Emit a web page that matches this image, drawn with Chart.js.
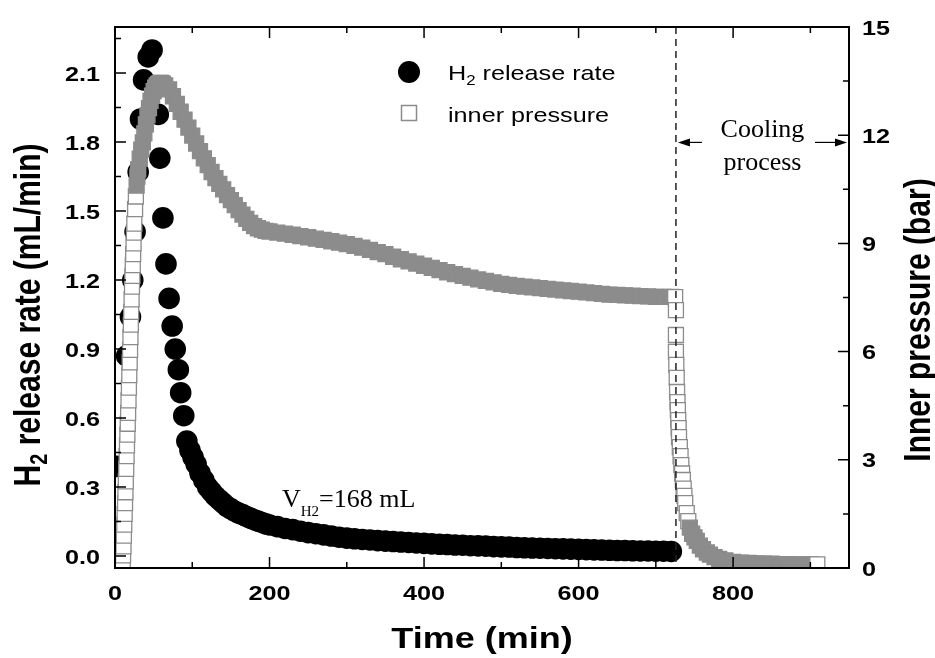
<!DOCTYPE html>
<html>
<head>
<meta charset="utf-8">
<title>H2 release rate and inner pressure</title>
<script src="https://cdn.jsdelivr.net/npm/chart.js@4.4.0/dist/chart.umd.min.js"></script>
<style>
  html, body { margin: 0; padding: 0; background: #fff; }
</style>
</head>
<body>
<canvas id="releaseChart" width="935" height="658"></canvas>
<script>
// H2 release rate (black circles), mL/min
const rateTime = [2, 15, 20, 23, 26, 30, 33, 37, 43, 48,
  56, 58, 62, 66, 70, 74, 78, 82, 85, 89,
  93, 97, 101, 105, 110, 115, 120, 125, 130, 135, 140, 145, 150, 155, 160, 165, 170, 175, 180, 185, 190, 195, 200,
  210, 220, 230, 240, 250, 260, 270, 280, 290, 300, 310, 320, 330, 340, 350, 360, 370, 380, 390, 400,
  410, 420, 430, 440, 450, 460, 470, 480, 490, 500, 510, 520, 530, 540, 550, 560, 570, 580, 590, 600,
  610, 620, 630, 640, 650, 660, 670, 680, 690, 700, 710, 720];
const rateValue = [0.39, 0.87, 1.04, 1.20, 1.41, 1.67, 1.90, 2.07, 2.17, 2.20,
  1.92, 1.73, 1.47, 1.27, 1.12, 1.00, 0.90, 0.81, 0.71, 0.61,
  0.50, 0.46, 0.43, 0.40, 0.36, 0.33, 0.30, 0.28, 0.26, 0.245, 0.23, 0.215, 0.205, 0.195, 0.187, 0.18, 0.172, 0.165, 0.158, 0.152, 0.146, 0.14, 0.135,
  0.128, 0.12, 0.115, 0.108, 0.102, 0.097, 0.092, 0.087, 0.082, 0.078, 0.075, 0.072, 0.07, 0.067, 0.065, 0.063, 0.061, 0.059, 0.057, 0.055,
  0.053, 0.051, 0.05, 0.048, 0.047, 0.045, 0.044, 0.043, 0.041, 0.04, 0.039, 0.037, 0.036, 0.035, 0.034, 0.033, 0.032, 0.031, 0.03, 0.029,
  0.028, 0.027, 0.026, 0.025, 0.024, 0.024, 0.023, 0.022, 0.022, 0.021, 0.021, 0.02];

// inner pressure (open squares), bar
const pressTime = [8, 10, 10.5, 11, 11.5, 12, 12.5, 13, 13.5, 14, 14.5, 15, 15.5, 16, 16.5, 17, 17.5, 18, 18.5, 19, 19.5,
  20, 20.5, 21, 21.5, 22, 22.5, 23, 23.5, 24, 24.5, 25, 26, 27, 28, 29, 30, 32, 34, 36, 38, 40, 42, 44, 46, 48,
  50, 52, 54, 56, 58, 60, 62, 65, 70, 75, 80, 85, 90, 95, 100, 105, 110, 115, 120, 125, 130, 135, 140, 145, 150,
  155, 160, 165, 170, 175, 180, 185, 190, 195, 200, 210, 220, 230, 240, 250, 260, 270, 280, 290, 300,
  310, 320, 330, 340, 350, 360, 370, 380, 390, 400, 410, 420, 430, 440, 450, 460, 470, 480, 490, 500,
  510, 520, 530, 540, 550, 560, 570, 580, 590, 600, 610, 620, 630, 640, 650, 660, 670, 680, 690, 700, 710, 720, 725,
  726, 726, 726, 726.5, 727, 727.5, 728, 728.5, 729, 729.5, 730, 731, 732, 733, 734, 735, 736, 737, 738, 740,
  742, 744, 747, 750, 753, 757, 761, 766, 770, 776, 782, 790, 800, 810, 820, 830, 840, 850, 860, 870, 880, 890, 900, 909];
const pressValue = [0, 0.1, 0.35, 0.6, 0.9, 1.2, 1.5, 1.8, 2.1, 2.4, 2.75, 3.1, 3.4, 3.7, 4.0, 4.3, 4.65, 5.0, 5.35, 5.7, 6.05,
  6.4, 6.75, 7.1, 7.45, 7.8, 8.1, 8.4, 8.7, 9.0, 9.3, 9.55, 9.95, 10.3, 10.6, 10.85, 11.05, 11.35, 11.6, 11.8, 12.05, 12.3, 12.55, 12.75, 12.95, 13.1,
  13.22, 13.32, 13.38, 13.42, 13.45, 13.45, 13.43, 13.38, 13.27, 13.08, 12.87, 12.65, 12.43, 12.21, 11.99, 11.77, 11.56, 11.36, 11.17, 10.98, 10.81, 10.65, 10.5, 10.34, 10.2,
  10.06, 9.92, 9.8, 9.68, 9.57, 9.48, 9.42, 9.38, 9.35, 9.33, 9.3, 9.27, 9.24, 9.2, 9.17, 9.13, 9.1, 9.06, 9.02, 8.98,
  8.93, 8.88, 8.82, 8.76, 8.7, 8.63, 8.56, 8.5, 8.44, 8.38, 8.32, 8.26, 8.2, 8.15, 8.1, 8.05, 8.0, 7.96, 7.92, 7.88,
  7.85, 7.82, 7.8, 7.78, 7.76, 7.74, 7.72, 7.7, 7.68, 7.66, 7.64, 7.62, 7.6, 7.58, 7.57, 7.56, 7.55, 7.54, 7.53, 7.52, 7.52, 7.52, 7.51,
  7.15, 6.46, 5.99, 5.63, 5.27, 4.88, 4.6, 4.38, 4.1, 3.88, 3.63, 3.35, 3.1, 2.85, 2.62, 2.44, 2.2, 2.0, 1.8, 1.52,
  1.3, 1.12, 0.95, 0.85, 0.75, 0.62, 0.52, 0.43, 0.37, 0.3, 0.25, 0.21, 0.17, 0.15, 0.14, 0.13, 0.12, 0.12, 0.11, 0.11, 0.1, 0.1, 0.1, 0.1];

const timeTicks = [0, 200, 400, 600, 800];
const rateTicks = [0, 0.3, 0.6, 0.9, 1.2, 1.5, 1.8, 2.1];
const pressTicks = [0, 3, 6, 9, 12, 15];
const coolingStart = 726;   // min, start of cooling
const releasedVolume = 168; // mL

const SANS = '"Liberation Sans", Arial, sans-serif';
const SERIF = '"Liberation Serif", "Times New Roman", serif';
const STRETCH = 1.2; // the original lettering is a bit wide

// draw a run of text pieces (for subscripts), optionally rotated
function drawParts(ctx, parts, x, y, align, sx, rotate) {
    ctx.save();
    ctx.translate(x, y);
    ctx.scale(sx, 1);
    if (rotate) ctx.rotate(-Math.PI / 2);
    let total = 0;
    parts.forEach(p => { ctx.font = p.font; total += ctx.measureText(p.text).width; });
    let cx = align === 'center' ? -total / 2 : (align === 'right' ? -total : 0);
    ctx.textAlign = 'left';
    ctx.textBaseline = 'alphabetic';
    parts.forEach(p => {
        ctx.font = p.font;
        ctx.fillText(p.text, cx, p.dy || 0);
        cx += ctx.measureText(p.text).width;
    });
    ctx.restore();
}

function arrow(ctx, x0, y0, x1) {
    const dir = Math.sign(x1 - x0);
    ctx.beginPath();
    ctx.moveTo(x0, y0);
    ctx.lineTo(x1 - dir * 8, y0);
    ctx.stroke();
    ctx.beginPath();
    ctx.moveTo(x1, y0);
    ctx.lineTo(x1 - dir * 12, y0 - 4);
    ctx.lineTo(x1 - dir * 12, y0 + 4);
    ctx.closePath();
    ctx.fill();
}

const decorPlugin = {
    id: 'decor',
    afterDatasetsDraw(chart) {
        const { ctx, chartArea: a, scales } = chart;
        const x = scales.x, y = scales.y, y2 = scales.y2;
        ctx.save();

        // dashed line at the start of cooling
        const xc = x.getPixelForValue(coolingStart);
        ctx.strokeStyle = '#222';
        ctx.lineWidth = 1.5;
        ctx.setLineDash([7, 5]);
        ctx.beginPath();
        ctx.moveTo(xc, a.top);
        ctx.lineTo(xc, a.bottom);
        ctx.stroke();
        ctx.setLineDash([]);

        // frame
        ctx.strokeStyle = '#000';
        ctx.lineWidth = 2;
        ctx.strokeRect(a.left, a.top, a.right - a.left, a.bottom - a.top);

        // inward ticks
        ctx.lineWidth = 1.5;
        ctx.beginPath();
        const xStep = timeTicks[1] - timeTicks[0];
        timeTicks.forEach(v => {
            [[v, 11], [v + xStep / 2, 6]].forEach(([t, len]) => {
                if (t > x.max) return;
                const px = x.getPixelForValue(t);
                ctx.moveTo(px, a.bottom); ctx.lineTo(px, a.bottom - len);
                ctx.moveTo(px, a.top); ctx.lineTo(px, a.top + len);
            });
        });
        const rStep = rateTicks[1] - rateTicks[0];
        rateTicks.forEach(v => {
            [[v, 11], [v + rStep / 2, 6]].forEach(([t, len]) => {
                const py = y.getPixelForValue(t);
                ctx.moveTo(a.left, py); ctx.lineTo(a.left + len, py);
            });
        });
        const pStep = pressTicks[1] - pressTicks[0];
        pressTicks.forEach(v => {
            [[v, 11], [v + pStep / 2, 6]].forEach(([t, len]) => {
                if (t > y2.max) return;
                const py = y2.getPixelForValue(t);
                ctx.moveTo(a.right, py); ctx.lineTo(a.right - len, py);
            });
        });
        ctx.stroke();

        // tick labels
        ctx.fillStyle = '#000';
        const tickFont = 'bold 21px ' + SANS;
        timeTicks.forEach(v => drawParts(ctx, [{ text: String(v), font: tickFont }],
            x.getPixelForValue(v), a.bottom + 32, 'center', STRETCH));
        rateTicks.forEach(v => drawParts(ctx, [{ text: v.toFixed(1), font: tickFont }],
            a.left - 15, y.getPixelForValue(v) + 7.5, 'right', STRETCH));
        pressTicks.forEach(v => drawParts(ctx, [{ text: String(v), font: tickFont }],
            a.right + 13, y2.getPixelForValue(v) + 7.5, 'left', STRETCH));

        // axis titles
        const titleFont = 'bold 30px ' + SANS;
        drawParts(ctx, [
            { text: 'H', font: titleFont },
            { text: '2', font: 'bold 20px ' + SANS, dy: 6 },
            { text: ' release rate (mL/min)', font: titleFont }
        ], 40, 315, 'center', STRETCH, true);
        drawParts(ctx, [{ text: 'Inner pressure (bar)', font: titleFont }], 930, 320, 'center', STRETCH, true);
        drawParts(ctx, [{ text: 'Time (min)', font: titleFont }], (a.left + a.right) / 2, 648, 'center', STRETCH);

        // legend
        ctx.fillStyle = '#000';
        ctx.beginPath();
        ctx.arc(409, 72, 11, 0, Math.PI * 2);
        ctx.fill();
        ctx.fillStyle = '#fff';
        ctx.strokeStyle = '#8c8c8c';
        ctx.lineWidth = 1.5;
        ctx.fillRect(401.5, 105.5, 15, 15);
        ctx.strokeRect(401.5, 105.5, 15, 15);
        ctx.fillStyle = '#000';
        const legFont = '21px ' + SANS;
        drawParts(ctx, [
            { text: 'H', font: legFont },
            { text: '2', font: '14px ' + SANS, dy: 5 },
            { text: ' release rate', font: legFont }
        ], 448, 80, 'left', STRETCH);
        drawParts(ctx, [{ text: 'inner pressure', font: legFont }], 448, 122, 'left', STRETCH);

        // cooling process note
        const ya = y2.getPixelForValue(11.8);
        ctx.strokeStyle = '#000';
        ctx.lineWidth = 1.2;
        arrow(ctx, xc + 26, ya, xc + 2);
        arrow(ctx, a.right - 34, ya, a.right - 2);
        const mid = (xc + a.right) / 2;
        drawParts(ctx, [{ text: 'Cooling', font: '26px ' + SERIF }], mid, ya - 5, 'center', 1);
        drawParts(ctx, [{ text: 'process', font: '26px ' + SERIF }], mid, ya + 28, 'center', 1);

        // released volume note
        drawParts(ctx, [
            { text: 'V', font: '26px ' + SERIF },
            { text: 'H2', font: '15px ' + SERIF, dy: 9 },
            { text: '=' + releasedVolume + ' mL', font: '26px ' + SERIF }
        ], x.getPixelForValue(216), y.getPixelForValue(0.213), 'left', 1);

        ctx.restore();
    }
};

// open squares look grey where the logger points pile up
function squareFill(c) {
    const p = c.raw;
    if (!p || c.dataIndex === pressTime.length - 1) return '#fff';
    if (p.x < 28 || (p.x > 722 && p.y > 1.2)) return '#fff';
    return '#8c8c8c';
}

const ctx = document.getElementById('releaseChart').getContext('2d');
new Chart(ctx, {
    type: 'scatter',
    data: {
        datasets: [{
            label: 'inner pressure',
            data: pressTime.map((t, i) => ({ x: t, y: pressValue[i] })),
            yAxisID: 'y2',
            pointStyle: 'rect',
            pointRadius: 10.6,
            pointBorderWidth: 1.3,
            pointBorderColor: '#8c8c8c',
            pointBackgroundColor: squareFill,
            order: 0
        }, {
            label: 'H2 release rate',
            data: rateTime.map((t, i) => ({ x: t, y: rateValue[i] })),
            yAxisID: 'y',
            pointStyle: 'circle',
            pointRadius: 10.8,
            pointBorderWidth: 0,
            pointBackgroundColor: '#000',
            order: 1
        }]
    },
    options: {
        responsive: false,
        animation: false,
        events: [],
        layout: { padding: { left: 115, right: 86, top: 27, bottom: 90 } },
        plugins: {
            legend: { display: false },
            tooltip: { enabled: false }
        },
        scales: {
            x: { type: 'linear', min: 0, max: 950, display: false },
            y: { type: 'linear', min: -0.052, max: 2.3, display: false },
            y2: { type: 'linear', position: 'right', min: 0, max: 15, display: false }
        }
    },
    plugins: [decorPlugin]
});
</script>
</body>
</html>
